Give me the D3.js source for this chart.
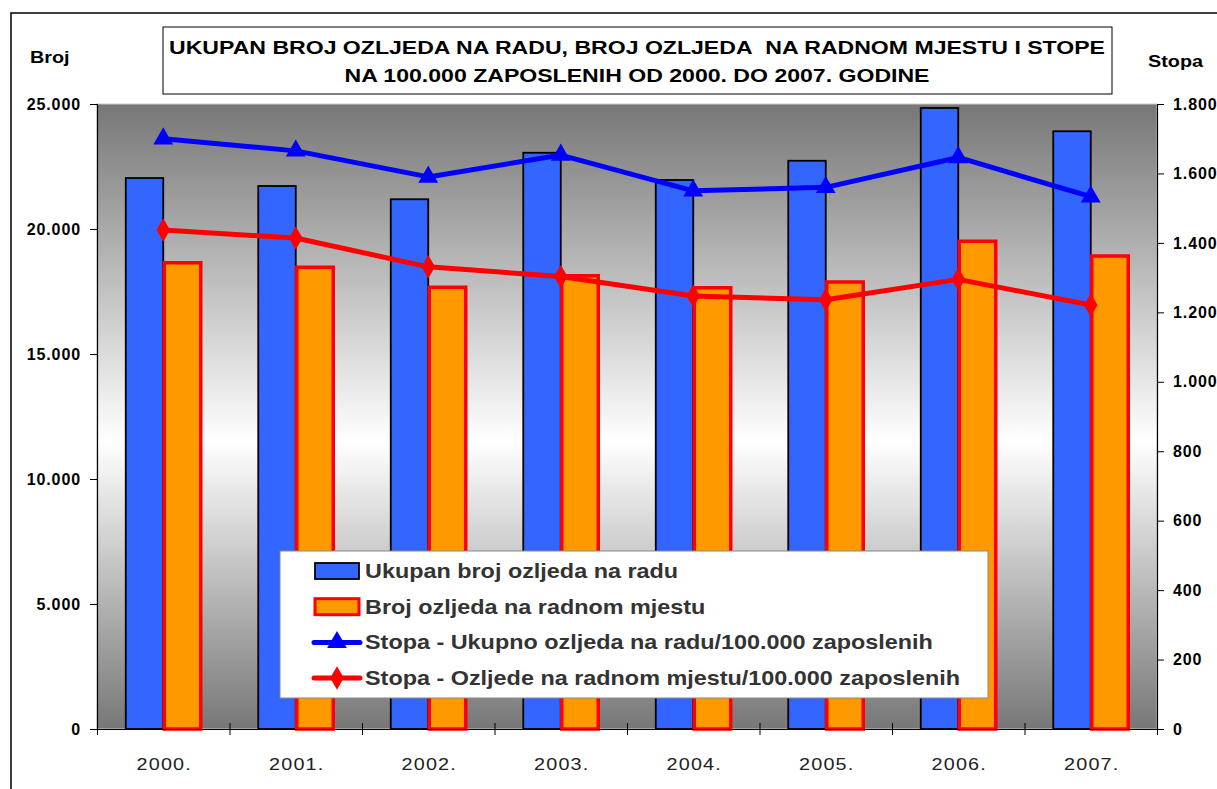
<!DOCTYPE html>
<html>
<head>
<meta charset="utf-8">
<script src="https://d3js.org/d3.v7.min.js"></script>
<style>
  body { margin: 0; background: #fff; font-family: "Liberation Sans", Arial, sans-serif; }
  svg text { font-family: "Liberation Sans", Arial, sans-serif; }
</style>
</head>
<body>
<script>
// data
const years = ["2000.", "2001.", "2002.", "2003.", "2004.", "2005.", "2006.", "2007."];
const ukupno = [22040, 21720, 21190, 23050, 21960, 22730, 24840, 23910];
const radnoMjesto = [18650, 18470, 17670, 18130, 17650, 17880, 19510, 18920];
const stopaUkupno = [1700, 1665, 1590, 1653, 1550, 1560, 1646, 1533];
const stopaRadno = [1437, 1414, 1331, 1303, 1247, 1236, 1295, 1221];
const leftTicks = [0, 5000, 10000, 15000, 20000, 25000];
const rightTicks = [0, 200, 400, 600, 800, 1000, 1200, 1400, 1600, 1800];
const legendLabels = [
  "Ukupan broj ozljeda na radu",
  "Broj ozljeda na radnom mjestu",
  "Stopa - Ukupno ozljeda na radu/100.000 zaposlenih",
  "Stopa - Ozljede na radnom mjestu/100.000 zaposlenih"
];

const W = 1217, H = 789;
const plot = { left: 97, right: 1157, top: 104, bottom: 729 };
const SX = 1.2; // the original chart is stretched sideways

const locale = d3.formatLocale({ decimal: ",", thousands: ".", grouping: [3], currency: ["", ""] });
const fmt = locale.format(",d");

const svg = d3.select("body").append("svg")
  .attr("width", W).attr("height", H);

// gradient for plot background
const defs = svg.append("defs");
const grad = defs.append("linearGradient")
  .attr("id", "bg").attr("x1", 0).attr("y1", 0).attr("x2", 0).attr("y2", 1);
grad.append("stop").attr("offset", "0%").attr("stop-color", "#777");
grad.append("stop").attr("offset", "54%").attr("stop-color", "#fff");
grad.append("stop").attr("offset", "100%").attr("stop-color", "#777");

// outer frame
svg.append("rect")
  .attr("x", 11).attr("y", 13).attr("width", W + 20).attr("height", H + 20)
  .attr("fill", "none").attr("stroke", "#000").attr("stroke-width", 1.5);

const x0 = d3.scaleBand().domain(years)
  .range([plot.left, plot.right])
  .paddingInner(0.434).paddingOuter(0.217);
const x1 = d3.scaleBand().domain(["a", "b"]).range([0, x0.bandwidth()]);
const xc = d => x0(d) + x0.bandwidth() / 2;

const yL = d3.scaleLinear().domain([0, 25000]).range([plot.bottom, plot.top]);
const yR = d3.scaleLinear().domain([0, 1800]).range([plot.bottom, plot.top]);

svg.append("rect")
  .attr("x", plot.left).attr("y", plot.top)
  .attr("width", plot.right - plot.left).attr("height", plot.bottom - plot.top)
  .attr("fill", "url(#bg)").attr("stroke", "#ccc").attr("stroke-width", 1);

// bars
svg.append("g").selectAll("rect")
  .data(years).join("rect")
  .attr("x", d => x0(d) + x1("a"))
  .attr("y", (d, i) => yL(ukupno[i]))
  .attr("width", x1.bandwidth())
  .attr("height", (d, i) => yL(0) - yL(ukupno[i]))
  .attr("fill", "#3366ff").attr("stroke", "#000").attr("stroke-width", 1.8);

svg.append("g").selectAll("rect")
  .data(years).join("rect")
  .attr("x", d => x0(d) + x1("b") + 1)
  .attr("y", (d, i) => yL(radnoMjesto[i]))
  .attr("width", x1.bandwidth() - 1)
  .attr("height", (d, i) => yL(0) - yL(radnoMjesto[i]))
  .attr("fill", "#ff9900").attr("stroke", "#ff0000").attr("stroke-width", 3.5);

// axes
const axL = svg.append("g").attr("transform", `translate(${plot.left},0)`)
  .call(d3.axisLeft(yL).tickValues(leftTicks).tickFormat(fmt).tickSize(7).tickPadding(9));
const axR = svg.append("g").attr("transform", `translate(${plot.right},0)`)
  .call(d3.axisRight(yR).tickValues(rightTicks).tickFormat(fmt).tickSize(7).tickPadding(9));
[axL, axR].forEach(a => {
  a.select(".domain").attr("stroke", "#000").attr("stroke-width", 1.2);
  a.selectAll(".tick line").attr("stroke", "#000");
  a.selectAll("text").attr("fill", "#000")
    .style("font-size", "16px").style("font-weight", "bold").style("letter-spacing", "0.9px");
});

const xAxis = d3.scaleLinear().domain([0, years.length]).range([plot.left, plot.right]);
const axB = svg.append("g").attr("transform", `translate(0,${plot.bottom})`)
  .call(d3.axisBottom(xAxis).ticks(years.length).tickFormat("").tickSizeInner(6).tickSizeOuter(0));
axB.select(".domain").attr("stroke", "#000").attr("stroke-width", 1.2);
axB.selectAll(".tick line").attr("y1", -6).attr("y2", 6).attr("stroke", "#000");

svg.append("g").selectAll("text")
  .data(years).join("text")
  .attr("transform", d => `translate(${xc(d) + 1},770) scale(${SX},1)`)
  .attr("text-anchor", "middle")
  .style("font-size", "16.5px").style("letter-spacing", "1px").attr("fill", "#222")
  .text(d => d);

// lines
const lineB = d3.line().x((d, i) => xc(years[i])).y(d => yR(d));
svg.append("path").datum(stopaUkupno)
  .attr("d", lineB).attr("fill", "none")
  .attr("stroke", "#0000ff").attr("stroke-width", 5).attr("stroke-linejoin", "round");
svg.append("path").datum(stopaRadno)
  .attr("d", lineB).attr("fill", "none")
  .attr("stroke", "#ff0000").attr("stroke-width", 5).attr("stroke-linejoin", "round");

const tri = d3.symbol().type(d3.symbolTriangle).size(170);
const dia = d3.symbol().type(d3.symbolDiamond).size(160);
svg.append("g").selectAll("path")
  .data(stopaUkupno).join("path")
  .attr("d", tri)
  .attr("transform", (d, i) => `translate(${xc(years[i])},${yR(d)})`)
  .attr("fill", "#0000ff");
svg.append("g").selectAll("path")
  .data(stopaRadno).join("path")
  .attr("d", dia)
  .attr("transform", (d, i) => `translate(${xc(years[i])},${yR(d)})`)
  .attr("fill", "#ff0000");

// axis titles
svg.append("text").attr("transform", `translate(30,63) scale(${SX},1)`)
  .style("font-size", "16.5px").style("font-weight", "bold").text("Broj");
svg.append("text").attr("transform", `translate(1148,67) scale(${SX},1)`)
  .style("font-size", "16.5px").style("font-weight", "bold").text("Stopa");

// title box
svg.append("rect").attr("x", 163).attr("y", 27).attr("width", 949).attr("height", 67)
  .attr("fill", "#fff").attr("stroke", "#000").attr("stroke-width", 1);
const title = svg.append("g").attr("transform", `translate(637,0) scale(1.215,1)`)
  .append("text").attr("text-anchor", "middle")
  .style("font-size", "19px").style("font-weight", "bold");
title.append("tspan").attr("x", 0).attr("y", 54)
  .text("UKUPAN BROJ OZLJEDA NA RADU, BROJ OZLJEDA\u00a0\u00a0NA RADNOM MJESTU I STOPE");
title.append("tspan").attr("x", 0).attr("y", 82)
  .text("NA 100.000 ZAPOSLENIH OD 2000. DO 2007. GODINE");

// legend
const lg = svg.append("g");
lg.append("rect").attr("x", 280).attr("y", 551).attr("width", 708).attr("height", 147)
  .attr("fill", "#fff").attr("stroke", "#888").attr("stroke-width", 1);
const rowY = i => 571 + i * 35.7;
lg.append("rect").attr("x", 315).attr("y", rowY(0) - 8).attr("width", 44).attr("height", 16)
  .attr("fill", "#3366ff").attr("stroke", "#000").attr("stroke-width", 1.8);
lg.append("rect").attr("x", 315).attr("y", rowY(1) - 8).attr("width", 44).attr("height", 16)
  .attr("fill", "#ff9900").attr("stroke", "#ff0000").attr("stroke-width", 3);
lg.append("line").attr("x1", 314).attr("x2", 360).attr("y1", rowY(2)).attr("y2", rowY(2))
  .attr("stroke", "#0000ff").attr("stroke-width", 5).attr("stroke-linecap", "round");
lg.append("path").attr("d", tri).attr("transform", `translate(337,${rowY(2)})`).attr("fill", "#0000ff");
lg.append("line").attr("x1", 314).attr("x2", 360).attr("y1", rowY(3)).attr("y2", rowY(3))
  .attr("stroke", "#ff0000").attr("stroke-width", 5).attr("stroke-linecap", "round");
lg.append("path").attr("d", dia).attr("transform", `translate(337,${rowY(3)})`).attr("fill", "#ff0000");
lg.selectAll("text.lab").data(legendLabels).join("text")
  .attr("class", "lab")
  .attr("transform", (d, i) => `translate(365,${rowY(i) + 7}) scale(1.17,1)`)
  .style("font-size", "20px").style("font-weight", "bold").attr("fill", "#333")
  .text(d => d);
</script>
</body>
</html>
